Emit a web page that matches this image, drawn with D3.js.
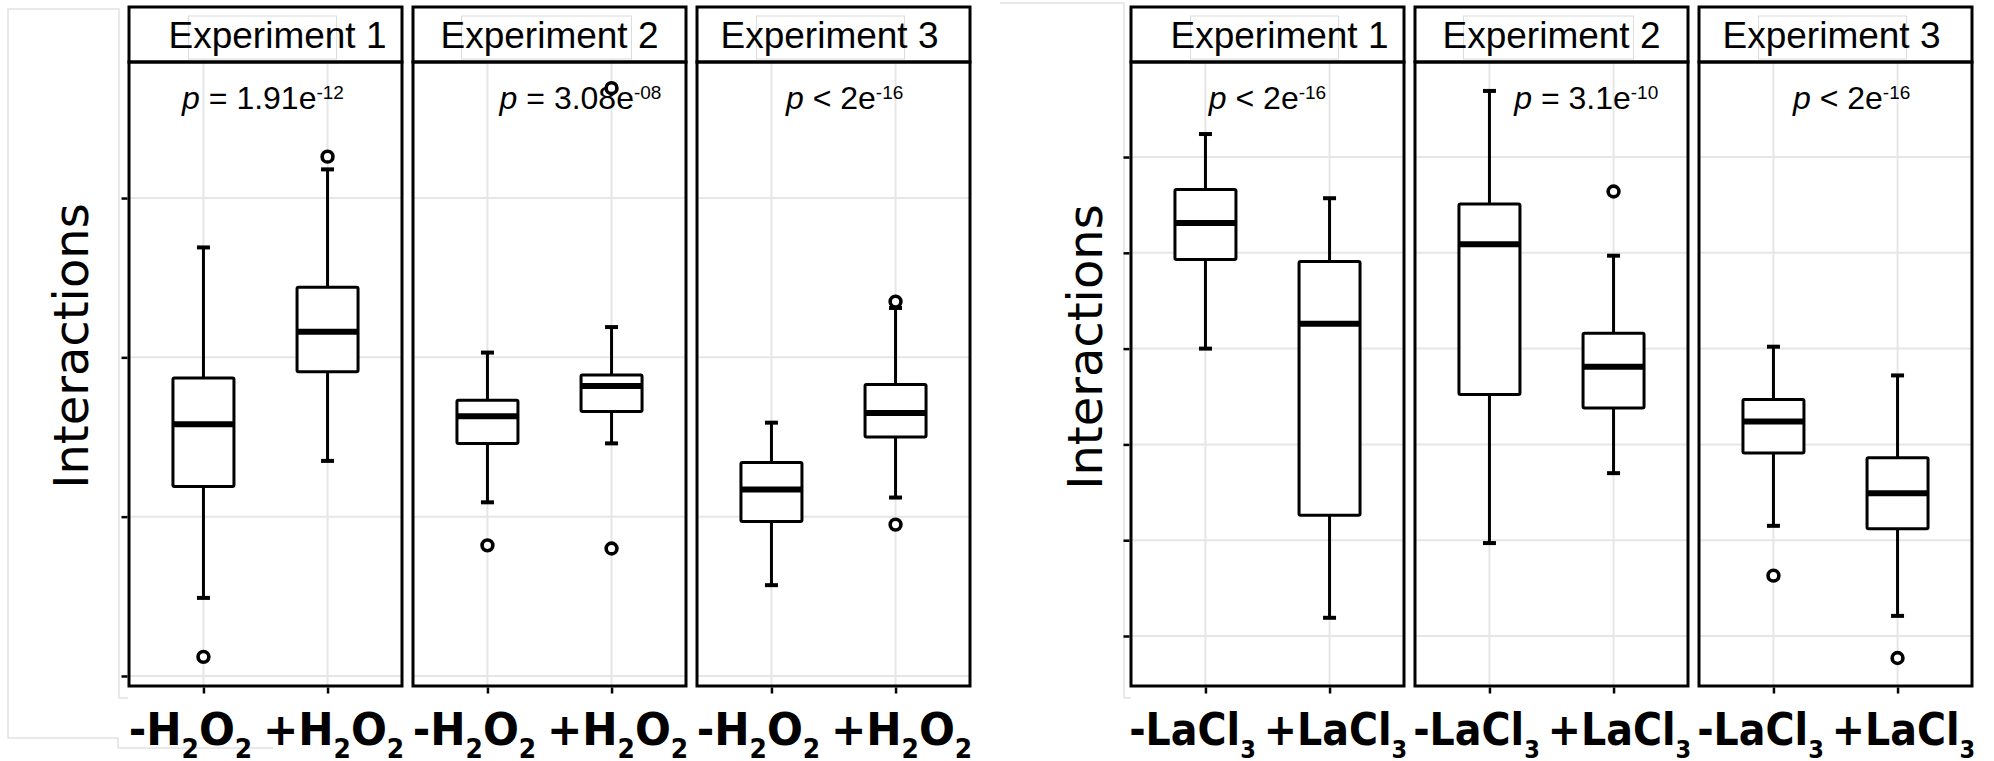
<!DOCTYPE html>
<html>
<head>
<meta charset="utf-8">
<script src="https://cdn.jsdelivr.net/npm/d3@7"></script>
<style>
  body { margin: 0; background: #fff; }
  svg { display: block; }
</style>
</head>
<body>
<svg id="chart" width="1994" height="761"></svg>
<script>
// ---------- data ----------
const experiments = ["Experiment 1", "Experiment 2", "Experiment 3"];
const treatments = ["-", "+"];

// H2O2 treatment: five-number summaries per experiment and treatment
const h2o2Boxes = [
  { exp: 0, trt: "-", lo: 14.9, q1: 21.9, med: 25.8, q3: 28.7, hi: 36.9, out: [11.2] },
  { exp: 0, trt: "+", lo: 23.5, q1: 29.1, med: 31.6, q3: 34.4, hi: 41.8, out: [42.6] },
  { exp: 1, trt: "-", lo: 20.9, q1: 24.6, med: 26.3, q3: 27.3, hi: 30.3, out: [18.2] },
  { exp: 1, trt: "+", lo: 24.6, q1: 26.6, med: 28.2, q3: 28.9, hi: 31.9, out: [46.9, 18.0] },
  { exp: 2, trt: "-", lo: 15.7, q1: 19.7, med: 21.7, q3: 23.4, hi: 25.9, out: [] },
  { exp: 2, trt: "+", lo: 21.2, q1: 25.0, med: 26.5, q3: 28.3, hi: 33.1, out: [33.5, 19.5] }
];
const h2o2Ticks = [10, 20, 30, 40];
const h2o2Domain = [9.37, 48.54];
const h2o2PValues = [
  { op: "=", mant: "1.91", expo: "-12", pos: 1.48 },
  { op: "=", mant: "3.08", expo: "-08", pos: 1.75 },
  { op: "<", mant: "2",    expo: "-16", pos: 1.59 }
];

// LaCl3 treatment: five-number summaries per experiment and treatment
const laBoxes = [
  { exp: 0, trt: "-", lo: 40.0, q1: 49.3, med: 53.1, q3: 56.6, hi: 62.4, out: [] },
  { exp: 0, trt: "+", lo: 11.9, q1: 22.6, med: 42.6, q3: 49.1, hi: 55.7, out: [] },
  { exp: 1, trt: "-", lo: 19.7, q1: 35.2, med: 50.9, q3: 55.1, hi: 66.9, out: [] },
  { exp: 1, trt: "+", lo: 27.0, q1: 33.8, med: 38.1, q3: 41.6, hi: 49.7, out: [56.4] },
  { exp: 2, trt: "-", lo: 21.5, q1: 29.1, med: 32.4, q3: 34.7, hi: 40.2, out: [16.3] },
  { exp: 2, trt: "+", lo: 12.1, q1: 21.2, med: 24.9, q3: 28.6, hi: 37.2, out: [7.7] }
];
const laTicks = [10, 20, 30, 40, 50, 60];
const laDomain = [4.78, 69.92];
const laPValues = [
  { op: "<", mant: "2",   expo: "-16", pos: 1.50 },
  { op: "=", mant: "3.1", expo: "-10", pos: 1.78 },
  { op: "<", mant: "2",   expo: "-16", pos: 1.63 }
];

// ---------- drawing ----------
const svg = d3.select("#chart");
const SANS = "'Liberation Sans', Arial, sans-serif";
const DEJA = "'DejaVu Sans', Verdana, sans-serif";

const panelW = 273, panelGap = 11;
const stripTop = 7, panelTop = 62, panelBottom = 686;
const boxHalf = 30.5, capHalf = 6.5;

function drawFigure(opt) {
  const g = svg.append("g");
  const y = d3.scaleLinear().domain(opt.domain).range([panelBottom, panelTop]);

  // faint outline around the axis title area
  g.append("path")
    .attr("d", opt.frame)
    .attr("fill", "none").attr("stroke", "#e2e2e2").attr("stroke-width", 1.5);

  experiments.forEach((name, i) => {
    const left = opt.left + i * (panelW + panelGap);
    const x = d3.scalePoint().domain(treatments).range([left, left + panelW]).padding(0.6);
    const pg = g.append("g");

    // panel background + grid
    pg.append("rect").attr("x", left).attr("y", panelTop)
      .attr("width", panelW).attr("height", panelBottom - panelTop).attr("fill", "#fff");
    pg.selectAll("line.hg").data(opt.ticks).join("line")
      .attr("x1", left).attr("x2", left + panelW)
      .attr("y1", d => y(d)).attr("y2", d => y(d))
      .attr("stroke", "#e6e6e6").attr("stroke-width", 2);
    pg.selectAll("line.vg").data(treatments).join("line")
      .attr("x1", d => x(d)).attr("x2", d => x(d))
      .attr("y1", panelTop).attr("y2", panelBottom)
      .attr("stroke", "#e6e6e6").attr("stroke-width", 2);

    // strip
    pg.append("rect").attr("x", left).attr("y", stripTop)
      .attr("width", panelW).attr("height", panelTop - stripTop)
      .attr("fill", "#fff").attr("stroke", "#000").attr("stroke-width", 3);
    const rw = i === 1 ? 170 : 148;
    pg.append("rect").attr("x", left + panelW / 2 - 3 - rw / 2).attr("y", 16)
      .attr("width", rw).attr("height", 43)
      .attr("fill", "none").attr("stroke", "#dcdcdc").attr("stroke-width", 1);
    pg.append("text")
      .attr("x", left + panelW / 2 + [12, 0, -4][i]).attr("y", 48)
      .attr("text-anchor", "middle")
      .attr("font-family", SANS).attr("font-size", 37).attr("fill", "#000")
      .text(name);

    // p-value
    const pv = opt.pvals[i];
    const px = d3.scaleLinear().domain([0.4, 2.6]).range([left, left + panelW]);
    const t = pg.append("text")
      .attr("x", px(pv.pos)).attr("y", 109)
      .attr("text-anchor", "middle")
      .attr("font-family", SANS).attr("font-size", 32).attr("fill", "#000");
    t.append("tspan").attr("font-style", "italic").text("p");
    t.append("tspan").text(` ${pv.op} ${pv.mant}e`);
    t.append("tspan").attr("dy", -10).attr("font-size", 19).text(pv.expo);

    // boxes
    const boxes = opt.boxes.filter(b => b.exp === i);
    boxes.forEach(b => {
      const cx = x(b.trt);
      const bg = pg.append("g").attr("stroke", "#000").attr("fill", "none")
        .attr("stroke-linejoin", "round");
      bg.append("line").attr("x1", cx).attr("x2", cx)
        .attr("y1", y(b.q3)).attr("y2", y(b.hi)).attr("stroke-width", 3);
      bg.append("line").attr("x1", cx).attr("x2", cx)
        .attr("y1", y(b.q1)).attr("y2", y(b.lo)).attr("stroke-width", 3);
      [b.hi, b.lo].forEach(v => bg.append("line")
        .attr("x1", cx - capHalf).attr("x2", cx + capHalf)
        .attr("y1", y(v)).attr("y2", y(v)).attr("stroke-width", 4));
      bg.append("rect").attr("x", cx - boxHalf).attr("y", y(b.q3))
        .attr("width", boxHalf * 2).attr("height", y(b.q1) - y(b.q3))
        .attr("fill", "#fff").attr("stroke-width", 3).attr("rx", 1.5);
      bg.append("line").attr("x1", cx - boxHalf).attr("x2", cx + boxHalf)
        .attr("y1", y(b.med)).attr("y2", y(b.med)).attr("stroke-width", 6);
      bg.selectAll("circle").data(b.out).join("circle")
        .attr("cx", cx).attr("cy", d => y(d)).attr("r", 5.4)
        .attr("fill", "#fff").attr("stroke-width", 3.6);
    });

    // panel border
    pg.append("rect").attr("x", left).attr("y", panelTop)
      .attr("width", panelW).attr("height", panelBottom - panelTop)
      .attr("fill", "none").attr("stroke", "#000").attr("stroke-width", 3);

    // bottom ticks
    const xa = pg.append("g").attr("transform", `translate(0,${panelBottom + 1.5})`)
      .call(d3.axisBottom(x).tickSize(6).tickFormat(""));
    xa.select(".domain").remove();
    xa.selectAll("line").attr("stroke", "#000").attr("stroke-width", 2.5);

    // category labels with subscripts
    treatments.forEach(trt => {
      const lx = x(trt) + (trt === "-" ? -13 : 6);
      const lt = pg.append("text")
        .attr("transform", `translate(${lx},745) scale(${opt.labelScale},1)`)
        .attr("text-anchor", "middle")
        .attr("font-family", DEJA).attr("font-weight", "bold")
        .attr("font-size", 44).attr("fill", "#000");
      opt.label(lt, trt);
    });
  });

  // left axis ticks
  const ya = g.append("g").attr("transform", `translate(${opt.left - 1.5},0)`)
    .call(d3.axisLeft(y).tickValues(opt.ticks).tickSize(6).tickFormat(""));
  ya.select(".domain").remove();
  ya.selectAll("line").attr("stroke", "#000").attr("stroke-width", 2.5);

  // axis title
  g.append("text")
    .attr("transform", `translate(${opt.titleX},${opt.titleY}) rotate(-90)`)
    .attr("text-anchor", "middle")
    .attr("font-family", DEJA).attr("font-size", 48).attr("fill", "#000")
    .text("Interactions");
}

drawFigure({
  left: 129, domain: h2o2Domain, ticks: h2o2Ticks, boxes: h2o2Boxes, pvals: h2o2PValues,
  titleX: 88, titleY: 346, labelScale: 0.96,
  frame: "M119,698 V9 H8 V738 H118 V748 H273 M119,698 H128",
  label: (t, trt) => {
    t.append("tspan").text(trt + "H");
    t.append("tspan").attr("dy", 13).attr("font-size", 26).text("2");
    t.append("tspan").attr("dy", -13).text("O");
    t.append("tspan").attr("dy", 13).attr("font-size", 26).text("2");
  }
});

drawFigure({
  left: 1131, domain: laDomain, ticks: laTicks, boxes: laBoxes, pvals: laPValues,
  titleX: 1102, titleY: 347, labelScale: 0.9,
  frame: "M1000,3 H1124 V698 H1131",
  label: (t, trt) => {
    t.append("tspan").text(trt + "LaCl");
    t.append("tspan").attr("dy", 13).attr("font-size", 25).text("3");
  }
});
</script>
</body>
</html>
